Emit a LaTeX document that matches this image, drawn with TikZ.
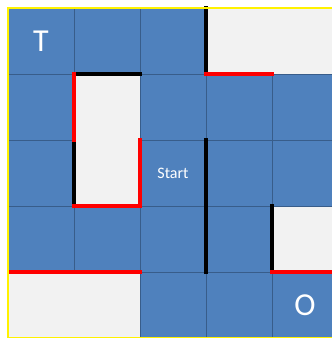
\documentclass[tikz,border=0pt]{standalone}
\usepackage{fontspec}
\setmainfont{Carlito}
\definecolor{cellblue}{HTML}{4F81BD}
\definecolor{celledge}{HTML}{385D8A}
\definecolor{cellgray}{HTML}{F2F2F2}
\begin{document}
\begin{tikzpicture}[x=1pt,y=-1pt,
  wall/.style={line width=3.5pt,line cap=rect},
  lab/.style={text=white,inner sep=0pt}]
\useasboundingbox (0,0) rectangle (332,338);
\begin{scope}
\clip (0,0) rectangle (332,338);
\fill[cellgray] (8,8) rectangle (338,338);
% blue squares, row by row (1 = blue, 0 = open)
\foreach \j/\row in {0/{1,1,1,0,0},1/{1,0,1,1,1},2/{1,0,1,1,1},3/{1,1,1,1,0},4/{0,0,1,1,1}}{
  \foreach \c [count=\i from 0] in \row {
    \ifnum\c=1
      \filldraw[fill=cellblue,draw=celledge,line width=0.8pt] (8+66*\i,8+66*\j) rectangle ++(66,66);
    \fi}}
% walls
\draw[wall,black] (74,74) -- (140,74);
\draw[wall,black] (74,140) -- (74,206);
\draw[wall,black] (206,8) -- (206,74);
\draw[wall,black] (206,140) -- (206,272);
\draw[wall,black] (272,206) -- (272,272);
\draw[wall,red] (74,74) -- (74,140);
\draw[wall,red] (140,140) -- (140,206) -- (74,206);
\draw[wall,red] (206,74) -- (272,74);
\draw[wall,red] (272,272) -- (338,272);
\draw[wall,red] (9,272) -- (140,272);
\draw[yellow,line width=2.8pt] (8,8) rectangle (338,338);
\end{scope}
\node[lab,font=\fontsize{32}{36}\selectfont] (target) at (41,41) {T};
\node[lab,font=\fontsize{16}{18}\selectfont] (start) at (173,173) {Start};
\node[lab,font=\fontsize{32}{36}\selectfont] (origin) at (305,305) {O};
\end{tikzpicture}
\end{document}
